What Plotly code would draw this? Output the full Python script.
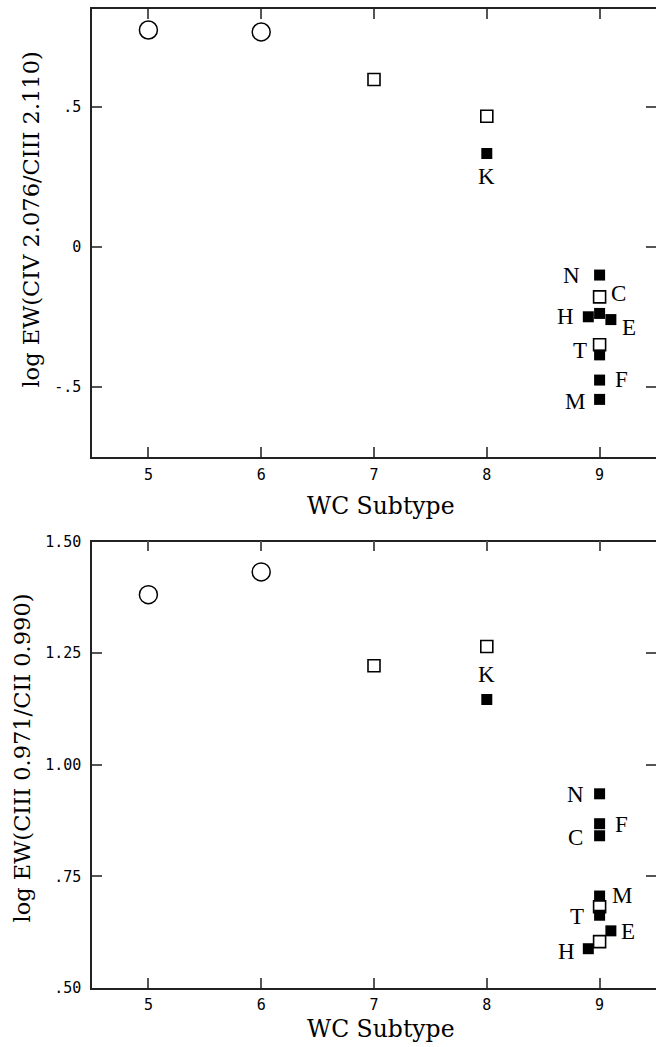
import plotly.graph_objects as go

# ---------------- data: top panel (log EW CIV 2.076 / CIII 2.110) ----------------
top_circle_x = [5, 6]
top_circle_y = [0.775, 0.768]
top_open_x = [7, 8, 9, 9]
top_open_y = [0.598, 0.467, -0.178, -0.349]
top_filled_x = [8, 9, 8.9, 9, 9.1, 9, 9, 9]
top_filled_y = [0.334, -0.100, -0.249, -0.237, -0.259, -0.385, -0.475, -0.544]

# star labels: text and the point they mark
top_lab_text = ["K", "N", "C", "H", "E", "T", "F", "M"]
top_lab_x = [8, 9, 9, 8.9, 9.1, 9, 9, 9]
top_lab_y = [0.334, -0.100, -0.178, -0.249, -0.259, -0.385, -0.475, -0.544]

# ---------------- data: bottom panel (log EW CIII 0.971 / CII 0.990) -------------
bot_circle_x = [5, 6]
bot_circle_y = [1.381, 1.432]
bot_open_x = [7, 8, 9, 9]
bot_open_y = [1.222, 1.265, 0.682, 0.604]
bot_filled_x = [8, 9, 9, 9, 9, 9, 9.1, 8.9]
bot_filled_y = [1.146, 0.935, 0.868, 0.841, 0.706, 0.663, 0.628, 0.588]

bot_lab_text = ["K", "N", "F", "C", "M", "T", "E", "H"]
bot_lab_x = [8, 9, 9, 9, 9, 9, 9.1, 8.9]
bot_lab_y = [1.146, 0.935, 0.868, 0.841, 0.706, 0.663, 0.628, 0.588]

# axes ticks
x_ticks = [5, 6, 7, 8, 9]
x_ticktext = ["5", "6", "7", "8", "9"]
top_yticks = [0.5, 0.0, -0.5]
top_yticktext = [".5", "0", "-.5"]
bot_yticks = [1.50, 1.25, 1.00, 0.75, 0.50]
bot_yticktext = ["1.50", "1.25", "1.00", ".75", ".50"]

x_title = "WC Subtype"
top_y_title = "log EW(CIV 2.076/CIII 2.110)"
bot_y_title = "log EW(CIII 0.971/CII 0.990)"

# ---------------- styling (pixel offsets for labels) ----------------
top_lab_dx = [0, -28, 19, -23, 18, -20, 22, -25]
top_lab_dy = [-23, 0, 3, 0, -8, 4, 1, -2]
bot_lab_dx = [0, -24, 22, -24, 22, -23, 17, -22]
bot_lab_dy = [25, -1, -1, -2, 1, -1, -1, -3]

FS = "DejaVu Serif"
TICKF = dict(family="DejaVu Sans Mono", size=15, color="black")
LABF = dict(family="Liberation Serif", size=23, color="black")

fig = go.Figure()


def add_panel(xa, ya, cx, cy, ox, oy, fx, fy):
    fig.add_trace(go.Scatter(x=cx, y=cy, mode="markers", xaxis=xa, yaxis=ya,
                             marker=dict(symbol="circle-open", size=18,
                                         color="black", line=dict(width=1.5, color="black")),
                             showlegend=False, hoverinfo="skip"))
    fig.add_trace(go.Scatter(x=ox, y=oy, mode="markers", xaxis=xa, yaxis=ya,
                             marker=dict(symbol="square-open", size=12,
                                         color="black", line=dict(width=1.6, color="black")),
                             showlegend=False, hoverinfo="skip"))
    fig.add_trace(go.Scatter(x=fx, y=fy, mode="markers", xaxis=xa, yaxis=ya,
                             marker=dict(symbol="square", size=11, color="black",
                                         line=dict(width=0)),
                             showlegend=False, hoverinfo="skip"))


add_panel("x", "y", top_circle_x, top_circle_y, top_open_x, top_open_y, top_filled_x, top_filled_y)
add_panel("x2", "y2", bot_circle_x, bot_circle_y, bot_open_x, bot_open_y, bot_filled_x, bot_filled_y)

annotations = []
for t, x, y, dx, dy in zip(top_lab_text, top_lab_x, top_lab_y, top_lab_dx, top_lab_dy):
    annotations.append(dict(text=t, x=x, y=y, xref="x", yref="y", showarrow=False,
                            xshift=dx, yshift=dy, font=LABF, xanchor="center", yanchor="middle"))
for t, x, y, dx, dy in zip(bot_lab_text, bot_lab_x, bot_lab_y, bot_lab_dx, bot_lab_dy):
    annotations.append(dict(text=t, x=x, y=y, xref="x2", yref="y2", showarrow=False,
                            xshift=dx, yshift=dy, font=LABF, xanchor="center", yanchor="middle"))

XTITF = dict(family=FS, size=23.5, color="black")
YTITF = dict(family=FS, size=22.5, color="black")
annotations += [
    dict(text=x_title, xref="paper", yref="paper", x=0.512, y=0.4924, showarrow=False,
         font=XTITF, xanchor="center", yanchor="middle", borderpad=0),
    dict(text=x_title, xref="paper", yref="paper", x=0.512, y=-0.0418, showarrow=False,
         font=XTITF, xanchor="center", yanchor="middle", borderpad=0),
    dict(text=top_y_title, xref="paper", yref="paper", x=-0.108, y=0.785, showarrow=False,
         font=YTITF, textangle=-90, xanchor="center", yanchor="middle"),
    dict(text=bot_y_title, xref="paper", yref="paper", x=-0.124, y=0.2345, showarrow=False,
         font=YTITF, textangle=-90, xanchor="center", yanchor="middle"),
]

axis_common = dict(showgrid=False, zeroline=False, showline=True, linecolor="#222",
                   linewidth=1.5, mirror="ticks", ticks="inside", ticklen=10,
                   tickwidth=1.5, tickcolor="#555", tickfont=TICKF)

fig.update_layout(
    width=658, height=1047,
    margin=dict(l=92, r=0, t=7, b=59),
    paper_bgcolor="white", plot_bgcolor="white",
    xaxis=dict(domain=[0, 1], anchor="y", range=[4.5, 9.5], tickvals=x_ticks,
               ticktext=x_ticktext, ticklabelstandoff=3, **axis_common),
    yaxis=dict(domain=[0.5423, 1], anchor="x", range=[-0.75, 0.85], tickvals=top_yticks,
               ticktext=top_yticktext, ticklabelstandoff=6, **axis_common),
    xaxis2=dict(domain=[0, 1], anchor="y2", range=[4.5, 9.5], tickvals=x_ticks,
                ticktext=x_ticktext, ticklabelstandoff=2, **axis_common),
    yaxis2=dict(domain=[0, 0.456], anchor="x2", range=[0.5, 1.5], tickvals=bot_yticks,
                ticktext=bot_yticktext, ticklabelstandoff=6, **axis_common),
    annotations=annotations,
)

fig.write_html("out.html", config={"displayModeBar": False},
               post_script="document.body.style.margin='0px';document.body.style.overflow='hidden';")
